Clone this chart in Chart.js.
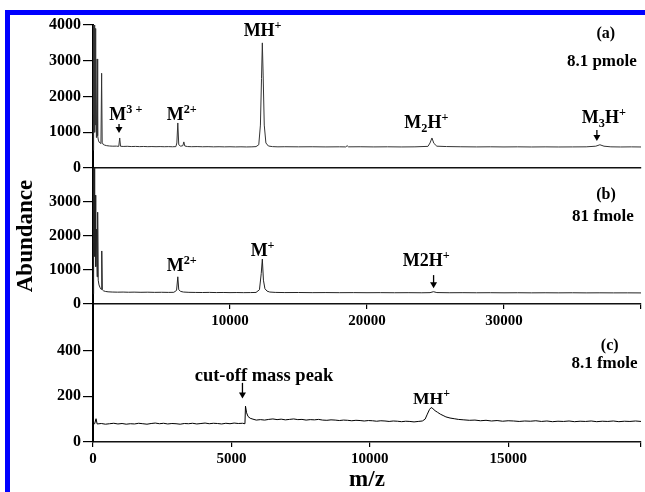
<!DOCTYPE html>
<html>
<head>
<meta charset="utf-8">
<script src="https://cdn.jsdelivr.net/npm/chart.js@4.4.1/dist/chart.umd.min.js"></script>
<style>
  html, body { margin: 0; padding: 0; background: #fff; }
  #page { position: relative; width: 645px; height: 492px; overflow: hidden; background: #fff; }
  canvas { position: absolute; left: 0; top: 0; }
  .frame-top { position: absolute; left: 5px; top: 10px; width: 640px; height: 5px; background: #0000ff; }
  .frame-left { position: absolute; left: 5px; top: 10px; width: 5px; height: 482px; background: #0000ff; }
</style>
</head>
<body>
<div id="page">
  <div class="frame-top"></div>
  <div class="frame-left"></div>
  <canvas id="chartA" width="645" height="492"></canvas>
  <canvas id="chartB" width="645" height="492"></canvas>
  <canvas id="chartC" width="645" height="492"></canvas>
</div>
<script>
// panel (a) 8.1 pmole : m/z and abundance
const aX = [10, 30, 60, 90, 120, 150, 180, 210, 250, 300, 340, 390, 450, 520, 580, 630, 670, 740, 850, 1000,
  1200, 1450, 1700, 1880, 1950, 2010, 2200, 2500, 2800, 3100, 3400, 3700, 4000, 4300, 4600, 4900, 5200, 5500, 5800, 6050,
  6120, 6190, 6260, 6400, 6560, 6630, 6700, 6900, 7200, 7600, 8000, 8400, 8800, 9200, 9600, 10000, 10400, 10800, 11200, 11600,
  11900, 12100, 12220, 12300, 12360, 12420, 12500, 12620, 12800, 13100, 13500, 14000, 15000, 16000, 17000, 18000, 18450, 18550, 18650, 19500,
  20500, 21500, 22500, 23500, 24450, 24600, 24740, 24880, 25100, 25800, 26800, 28000, 29000, 30000, 31000, 32000, 33000, 34000, 35000, 36000,
  36700, 37000, 37300, 37800, 38500, 39300, 40000];
const aY = [500, 4100, 1500, 4100, 1000, 3900, 1200, 2400, 850, 3050, 900, 780, 720, 700, 690, 2650, 720, 660, 640, 625,
  615, 610, 612, 605, 840, 608, 603, 607, 600, 604, 598, 602, 597, 600, 596, 599, 595, 598, 594, 598,
  700, 1260, 650, 610, 625, 730, 615, 600, 596, 599, 594, 597, 592, 595, 591, 594, 590, 593, 589, 592,
  598, 650, 1200, 2500, 3500, 2600, 1200, 700, 615, 598, 592, 595, 592, 594, 590, 593, 590, 625, 592, 594,
  590, 593, 589, 592, 605, 700, 840, 690, 610, 600, 594, 590, 593, 589, 592, 588, 591, 588, 590, 592,
  610, 650, 610, 592, 588, 591, 588];

// panel (b) 81 fmole
const bX = [10, 30, 60, 90, 120, 160, 200, 250, 300, 340, 380, 440, 520, 600, 640, 680, 760, 900, 1100, 1400,
  1800, 2200, 2600, 3000, 3500, 4000, 4500, 5000, 5500, 5900, 6100, 6190, 6260, 6400, 6600, 7000, 7500, 8000, 8500, 9000,
  9500, 10000, 10500, 11000, 11500, 11900, 12150, 12280, 12360, 12440, 12550, 12700, 12900, 13300, 14000, 15000, 16000, 17000, 18000, 19000,
  20000, 21000, 22000, 23000, 24000, 24600, 24850, 25100, 26000, 27000, 28000, 29000, 30000, 31000, 32000, 33000, 34000, 35000, 36000, 37000,
  38000, 39000, 40000];
const bY = [300, 4100, 1800, 4100, 1400, 3200, 1100, 2200, 800, 2700, 700, 560, 480, 430, 1560, 420, 390, 370, 358, 352,
  348, 351, 346, 349, 344, 347, 342, 345, 341, 344, 400, 800, 420, 370, 352, 343, 340, 338, 341, 336,
  339, 335, 337, 334, 336, 340, 420, 900, 1320, 700, 450, 380, 352, 341, 336, 338, 334, 336, 333, 335,
  332, 334, 331, 333, 330, 334, 362, 336, 331, 333, 330, 332, 329, 331, 328, 330, 328, 330, 327, 329,
  327, 328, 326];

// panel (c) 8.1 fmole
const cX = [0, 60, 110, 150, 300, 450, 600, 750, 900, 1050, 1200, 1350, 1500, 1650, 1800, 1950, 2100, 2250, 2400, 2550,
  2700, 2850, 3000, 3150, 3300, 3450, 3600, 3750, 3900, 4050, 4200, 4350, 4500, 4650, 4800, 4950, 5100, 5250, 5400, 5490,
  5510, 5550, 5600, 5680, 5780, 5900, 6050, 6200, 6350, 6500, 6650, 6800, 6950, 7100, 7250, 7400, 7550, 7700, 7850, 8000,
  8150, 8300, 8450, 8600, 8750, 8900, 9050, 9200, 9350, 9500, 9650, 9800, 9950, 10100, 10250, 10400, 10550, 10700, 10850, 11000,
  11150, 11300, 11450, 11600, 11750, 11900, 12000, 12080, 12160, 12220, 12280, 12360, 12450, 12550, 12650, 12750, 12900, 13050, 13200, 13400,
  13600, 13800, 14000, 14200, 14400, 14600, 14800, 15000, 15200, 15400, 15600, 15800, 16000, 16200, 16400, 16600, 16800, 17000, 17200, 17400,
  17600, 17800, 18000, 18200, 18400, 18600, 18800, 19000, 19200, 19400, 19600, 19800];
const cY = [78, 80, 102, 79, 81, 78, 80, 82, 79, 81, 78, 80, 79, 82, 80, 78, 81, 83, 80, 82,
  79, 81, 80, 78, 81, 80, 82, 79, 81, 83, 80, 82, 81, 79, 82, 80, 83, 81, 82, 80,
  157, 128, 112, 104, 100, 96, 98, 96, 99, 101, 98, 100, 97, 99, 101, 98, 99, 96, 98, 97,
  99, 96, 95, 97, 96, 94, 96, 95, 93, 95, 94, 92, 94, 93, 91, 93, 92, 90, 92, 91,
  89, 91, 90, 88, 90, 92, 100, 122, 143, 151, 146, 137, 130, 122, 116, 110, 105, 102, 99, 97,
  95, 96, 93, 95, 92, 94, 91, 93, 92, 90, 92, 91, 93, 90, 92, 89, 91, 90, 92, 89,
  91, 90, 92, 89, 91, 90, 92, 89, 91, 90, 92, 90];

// axis ticks
const abXTicks = [10000, 20000, 30000, 40000];
const abXLabels = [10000, 20000, 30000];
const cXTicks = [0, 5000, 10000, 15000, 19800];
const cXLabels = [0, 5000, 10000, 15000];
const aYTicks = [0, 1000, 2000, 3000, 4000];
const bYTicks = [0, 1000, 2000, 3000];
const cYTicks = [0, 200, 400];

const SERIF = '"Liberation Serif", "Times New Roman", serif';
const Y_BOX = 80;

// labels on the spectra, placed in data units
function drawRich(ctx, parts, cx, cy, size) {
  const sizeOf = p => (p[1] ? size * 0.68 : size);
  let w = 0;
  parts.forEach(p => { ctx.font = 'bold ' + sizeOf(p) + 'px ' + SERIF; w += ctx.measureText(p[0]).width; });
  let x = cx - w / 2;
  parts.forEach(p => {
    ctx.font = 'bold ' + sizeOf(p) + 'px ' + SERIF;
    const dy = p[1] === 'sup' ? -size * 0.3 : p[1] === 'sub' ? size * 0.3 : 0;
    ctx.fillText(p[0], x, cy + dy);
    x += ctx.measureText(p[0]).width;
  });
}

function notesPlugin(notes, arrows) {
  return {
    id: 'notes',
    afterDatasetsDraw(chart) {
      const { ctx, scales: { x, y } } = chart;
      ctx.save();
      ctx.fillStyle = '#000';
      ctx.strokeStyle = '#000';
      ctx.textAlign = 'left';
      ctx.textBaseline = 'middle';
      notes.forEach(n => drawRich(ctx, n.parts, x.getPixelForValue(n.x), y.getPixelForValue(n.y), n.size));
      arrows.forEach(a => {
        const px = x.getPixelForValue(a.x);
        const y1 = y.getPixelForValue(a.y1);
        const y2 = y.getPixelForValue(a.y2);
        ctx.lineWidth = 1.3;
        ctx.beginPath();
        ctx.moveTo(px, y1);
        ctx.lineTo(px, y2 - 5);
        ctx.stroke();
        ctx.beginPath();
        ctx.moveTo(px - 3.5, y2 - 6);
        ctx.lineTo(px + 3.5, y2 - 6);
        ctx.lineTo(px, y2);
        ctx.closePath();
        ctx.fill();
      });
      ctx.restore();
    }
  };
}

function makePanel(id, o) {
  return new Chart(document.getElementById(id), {
    type: 'line',
    data: {
      datasets: [{
        data: o.xs.map((x, i) => ({ x: x, y: o.ys[i] })),
        borderColor: o.color,
        borderWidth: 1,
        pointRadius: 0,
        tension: 0
      }]
    },
    options: {
      responsive: false,
      animation: false,
      events: [],
      layout: { padding: { left: 93 - Y_BOX, right: 4, top: o.top, bottom: o.bottom } },
      plugins: { legend: { display: false }, tooltip: { enabled: false } },
      scales: {
        x: {
          type: 'linear',
          min: 0,
          max: o.xMax,
          afterFit: s => { s.height = o.xBox; },
          afterBuildTicks: s => { s.ticks = o.xTicks.map(v => ({ value: v })); },
          ticks: {
            display: o.xLabels.length > 0,
            autoSkip: false,
            maxRotation: 0,
            padding: 3,
            color: '#000',
            font: { family: SERIF, size: 15, weight: 'bold' },
            callback: v => (o.xLabels.includes(v) ? String(v) : '')
          },
          grid: { display: o.xLabels.length > 0, drawOnChartArea: false, tickLength: 5, color: '#000', lineWidth: 1.2 },
          border: { color: '#111', width: 1.5 },
          title: o.xTitle
            ? { display: true, text: o.xTitle, color: '#000', padding: 0, font: { family: SERIF, size: 23, weight: 'bold', lineHeight: 1 } }
            : { display: false }
        },
        y: {
          min: 0,
          max: o.yMax,
          afterFit: s => { s.width = Y_BOX; },
          afterBuildTicks: s => { s.ticks = o.yTicks.map(v => ({ value: v })); },
          ticks: { padding: 2, color: '#000', font: { family: SERIF, size: 16, weight: 'bold' }, callback: v => String(v) },
          grid: { drawOnChartArea: false, tickLength: 10, color: '#000', lineWidth: 1.2 },
          border: { color: '#000', width: 2 },
          title: o.yTitle
            ? { display: true, text: o.yTitle, color: '#000', padding: { top: 2 }, font: { family: SERIF, size: 23, weight: 'bold', lineHeight: 1 } }
            : { display: false }
        }
      }
    },
    plugins: [notesPlugin(o.notes, o.arrows)]
  });
}

makePanel('chartA', {
  xs: aX, ys: aY, color: '#333',
  top: 25, bottom: 324, xBox: 0,
  xMax: 40000, xTicks: abXTicks, xLabels: [],
  yMax: 4000, yTicks: aYTicks,
  notes: [
    { x: 12380, y: 3830, size: 18, parts: [['MH'], ['+', 'sup']] },
    { x: 2400, y: 1480, size: 18, parts: [['M'], ['3 +', 'sup']] },
    { x: 6480, y: 1480, size: 18, parts: [['M'], ['2+', 'sup']] },
    { x: 24330, y: 1260, size: 18, parts: [['M'], ['2', 'sub'], ['H'], ['+', 'sup']] },
    { x: 37290, y: 1400, size: 18, parts: [['M'], ['3', 'sub'], ['H'], ['+', 'sup']] },
    { x: 37430, y: 3750, size: 16, parts: [['(a)']] },
    { x: 37140, y: 2965, size: 17, parts: [['8.1 pmole']] }
  ],
  arrows: [
    { x: 1900, y1: 1230, y2: 980 },
    { x: 36780, y1: 1060, y2: 755 }
  ]
});

makePanel('chartB', {
  xs: bX, ys: bY, color: '#222',
  top: 168, bottom: 148, xBox: 40,
  xMax: 40000, xTicks: abXTicks, xLabels: abXLabels,
  yMax: 4000, yTicks: bYTicks, yTitle: 'Abundance',
  notes: [
    { x: 6480, y: 1120, size: 18, parts: [['M'], ['2+', 'sup']] },
    { x: 12380, y: 1540, size: 18, parts: [['M'], ['+', 'sup']] },
    { x: 24330, y: 1260, size: 18, parts: [['M2H'], ['+', 'sup']] },
    { x: 37440, y: 3200, size: 16, parts: [['(b)']] },
    { x: 37220, y: 2570, size: 17, parts: [['81 fmole']] }
  ],
  arrows: [
    { x: 24860, y1: 850, y2: 460 }
  ]
});

makePanel('chartC', {
  xs: cX, ys: cY, color: '#000',
  top: 305, bottom: 0, xBox: 50,
  xMax: 19800, xTicks: cXTicks, xLabels: cXLabels, xTitle: 'm/z',
  yMax: 600, yTicks: cYTicks,
  notes: [
    { x: 18670, y: 422, size: 16, parts: [['(c)']] },
    { x: 18480, y: 342, size: 17, parts: [['8.1 fmole']] },
    { x: 6180, y: 289, size: 18.5, parts: [['cut-off mass peak']] },
    { x: 12230, y: 188, size: 17.5, parts: [['MH'], ['+', 'sup']] }
  ],
  arrows: [
    { x: 5400, y1: 259, y2: 191 }
  ]
});
</script>
</body>
</html>
